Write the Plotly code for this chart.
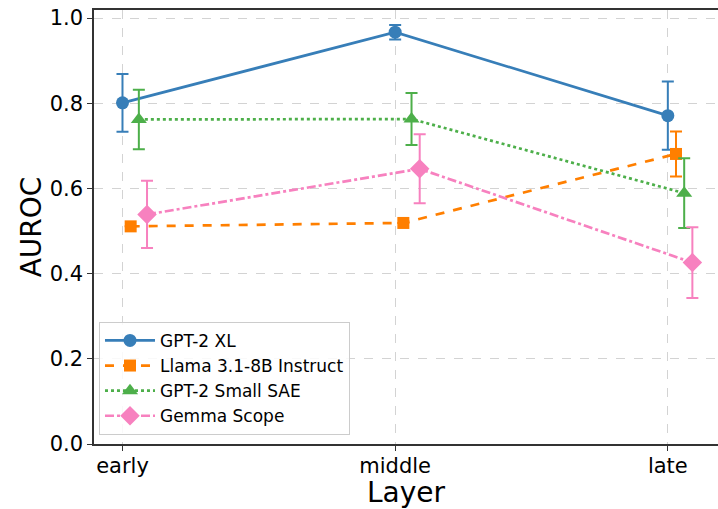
import plotly.graph_objects as go

layers = ["early", "middle", "late"]
series_names = ["GPT-2 XL", "Llama 3.1-8B Instruct", "GPT-2 Small SAE", "Gemma Scope"]
gpt2xl = [0.801, 0.967, 0.771]
gpt2xl_err = [0.068, 0.017, 0.080]
llama = [0.511, 0.519, 0.681]
llama_err = [0.0, 0.0, 0.053]
gpt2sae = [0.762, 0.763, 0.589]
gpt2sae_err = [0.070, 0.061, 0.082]
gemma = [0.539, 0.646, 0.426]
gemma_err = [0.079, 0.081, 0.083]

values = [gpt2xl, llama, gpt2sae, gemma]
errors = [gpt2xl_err, llama_err, gpt2sae_err, gemma_err]
colors = ["#377eb8", "#ff7f00", "#4daf4a", "#f781bf"]
symbols = ["circle", "square", "triangle-up", "diamond"]
sizes = [13, 12, 14, 15]
dashes = ["solid", "dash", "dot", "dashdot"]
offsets = [0.0, 0.03, 0.06, 0.09]

fig = go.Figure()
for name, vals, errs, c, s, sz, d, off in zip(series_names, values, errors, colors, symbols, sizes, dashes, offsets):
    fig.add_trace(go.Scatter(
        x=[i + off for i in range(len(layers))],
        y=vals,
        name=name,
        mode="lines+markers",
        line=dict(color=c, width=2.7, dash=d),
        marker=dict(symbol=s, size=sz, color=c),
        error_y=dict(type="data", array=errs, visible=True, color=c, thickness=2, width=6),
    ))

fig.update_layout(
    width=718, height=509,
    margin=dict(l=94, r=0, t=10, b=65),
    paper_bgcolor="white", plot_bgcolor="white",
    font=dict(family="DejaVu Sans", color="black"),
    legend=dict(
        x=0.008, y=0.021, xanchor="left", yanchor="bottom",
        bgcolor="rgba(255,255,255,0.85)", bordercolor="#cccccc", borderwidth=1,
        font=dict(size=17, family="DejaVu Sans"), itemwidth=50,
    ),
)
fig.update_xaxes(
    range=[-0.1045, 2.184],
    tickvals=[0, 1, 2], ticktext=layers,
    tickfont=dict(size=21),
    ticklabelstandoff=-3,
    title=dict(text="Layer", font=dict(size=28), standoff=0),
    automargin=False,
    showgrid=True, gridcolor="#d3d3d3", griddash="dash", gridwidth=1,
    showline=True, linecolor="#333333", linewidth=1.5, mirror=True,
    ticks="outside", ticklen=5, tickcolor="#333333", zeroline=False,
)
fig.update_yaxes(
    range=[0, 1.019],
    tickvals=[0, 0.2, 0.4, 0.6, 0.8, 1.0], tickformat=".1f",
    tickfont=dict(size=21),
    title=dict(text="AUROC", font=dict(size=28), standoff=0),
    automargin=False,
    showgrid=True, gridcolor="#d3d3d3", griddash="dash", gridwidth=1,
    showline=True, linecolor="#333333", linewidth=1.5, mirror=True,
    ticks="outside", ticklen=5, tickcolor="#333333", zeroline=False,
)

fig.write_html("out.html", config={"displayModeBar": False},
               post_script="document.body.style.margin='0';")
